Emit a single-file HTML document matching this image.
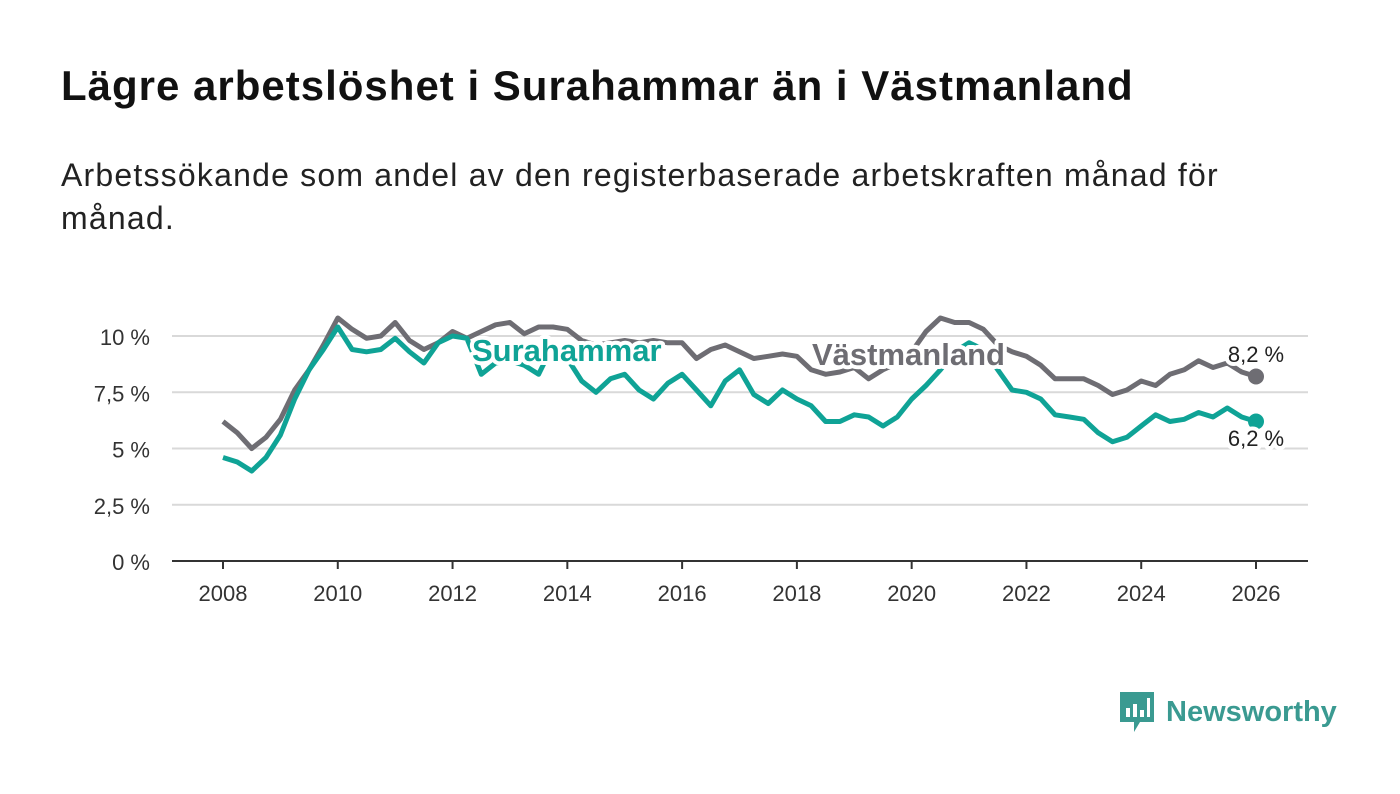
<!DOCTYPE html>
<html><head><meta charset="utf-8"><style>
body{margin:0;width:1400px;height:794px;background:#fff;font-family:"Liberation Sans",sans-serif;overflow:hidden;position:relative}
h1{position:absolute;left:61px;top:62px;margin:0;font-size:42px;letter-spacing:1px;font-weight:bold;color:#111}
.sub{position:absolute;left:61px;top:154px;width:1190px;margin:0;font-size:32px;letter-spacing:1.2px;line-height:43px;color:#222}
svg{position:absolute;left:0;top:0}
</style></head><body>
<h1>Lägre arbetslöshet i Surahammar än i Västmanland</h1>
<p class="sub">Arbetssökande som andel av den registerbaserade arbetskraften månad för månad.</p>
<svg id="c" width="1400" height="794"></svg>
<script>
const times=[];for(let i=0;i<=72;i++)times.push(2008+i*0.25);
const vastmanland=[6.2,5.7,5.0,5.5,6.3,7.6,8.5,9.6,10.8,10.3,9.9,10.0,10.6,9.8,9.4,9.7,10.2,9.9,10.2,10.5,10.6,10.1,10.4,10.4,10.3,9.8,9.6,9.7,9.8,9.7,9.8,9.7,9.7,9.0,9.4,9.6,9.3,9.0,9.1,9.2,9.1,8.5,8.3,8.4,8.6,8.1,8.5,8.8,9.3,10.2,10.8,10.6,10.6,10.3,9.6,9.3,9.1,8.7,8.1,8.1,8.1,7.8,7.4,7.6,8.0,7.8,8.3,8.5,8.9,8.6,8.8,8.4,8.2];
const surahammar=[4.6,4.4,4.0,4.6,5.6,7.2,8.5,9.4,10.4,9.4,9.3,9.4,9.9,9.3,8.8,9.7,10.0,9.9,8.3,8.8,8.9,8.7,8.3,9.6,9.0,8.0,7.5,8.1,8.3,7.6,7.2,7.9,8.3,7.6,6.9,8.0,8.5,7.4,7.0,7.6,7.2,6.9,6.2,6.2,6.5,6.4,6.0,6.4,7.2,7.8,8.5,9.3,9.7,9.4,8.5,7.6,7.5,7.2,6.5,6.4,6.3,5.7,5.3,5.5,6.0,6.5,6.2,6.3,6.6,6.4,6.8,6.4,6.2];
const yTicks=[0,2.5,5,7.5,10];
const yTickLabels=["0 %","2,5 %","5 %","7,5 %","10 %"];
const xTicks=[2008,2010,2012,2014,2016,2018,2020,2022,2024,2026];
const X=t=>223+(t-2008)*(1256-223)/18;
const Y=v=>561-v*22.5;
const svg=document.getElementById('c');const NS='http://www.w3.org/2000/svg';
function mk(tag,attrs,txt){const e=document.createElementNS(NS,tag);for(const k in attrs)e.setAttribute(k,attrs[k]);if(txt!==undefined)e.textContent=txt;svg.appendChild(e);return e;}
yTicks.forEach((v,i)=>{
 if(v>0){const g=mk('line',{x1:172,x2:1308,y1:Y(v),y2:Y(v),stroke:'#d9d9d9','stroke-width':2});
 
 }
 const t=mk('text',{x:150,y:Y(v)+9,'text-anchor':'end','font-size':22,fill:'#333'},yTickLabels[i]);
 
 
});
const ax=mk('line',{x1:172,x2:1308,y1:561,y2:561,stroke:'#333','stroke-width':2});


xTicks.forEach(t=>{
 const tk=mk('line',{x1:X(t),x2:X(t),y1:561,y2:569,stroke:'#333','stroke-width':2});
 
 
 const l=mk('text',{x:X(t),y:601,'text-anchor':'middle','font-size':22,fill:'#333'},String(t));
 
 
});
function line(vals,color,name){
 const d=vals.map((v,i)=>(i?'L':'M')+X(times[i]).toFixed(1)+','+Y(v).toFixed(1)).join('');
 const p=mk('path',{d:d,fill:'none',stroke:color,'stroke-width':5,'stroke-linejoin':'round'});
 
 
 const n=vals.length-1;
 const c=mk('circle',{cx:X(times[n]),cy:Y(vals[n]),r:8,fill:color});
 
 
}
line(vastmanland,'#6e6d73','vastmanland-line');
line(surahammar,'#0fa396','surahammar-line');
function label(x,y,txt,color,size,weight,anchor,name){
 const h=mk('text',{x:x,y:y,'font-size':size,'font-weight':weight,'text-anchor':anchor,fill:'#fff',stroke:'#fff','stroke-width':8,'stroke-linejoin':'round'},txt);
 
 
 const t=mk('text',{x:x,y:y,'font-size':size,'font-weight':weight,'text-anchor':anchor,fill:color},txt);
 
 
}
label(472,361,'Surahammar','#0fa396',31,'bold','start','surahammar-label');
label(812,365,'Västmanland','#6e6d73',31,'bold','start','vastmanland-label');
label(1256,362,'8,2 %','#222',22,'normal','middle','vastmanland-end-value');
label(1256,446,'6,2 %','#222',22,'normal','middle','surahammar-end-value');
</script>
<div style="position:absolute;left:1118px;top:690px;height:44px;display:flex;align-items:center">
 <svg width="38" height="44" style="position:static"><path d="M2 2h34v30H22l-6 10v-10H2z" fill="#3a9a91"/><rect x="8" y="18" width="4" height="9" fill="#fff"/><rect x="15" y="14" width="4" height="13" fill="#fff"/><rect x="22" y="20" width="4" height="7" fill="#fff"/><rect x="29" y="8" width="3" height="19" fill="#fff"/></svg>
 <span style="font-size:29px;font-weight:bold;color:#3a9a91;margin-left:10px">Newsworthy</span>
</div>
</body></html>
